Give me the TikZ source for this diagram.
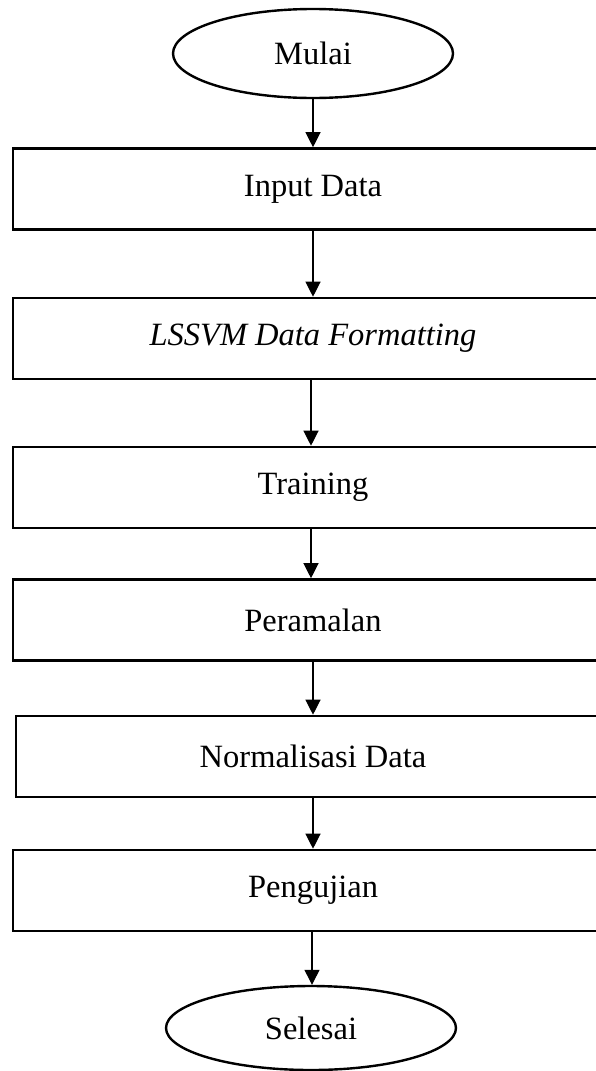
\documentclass[tikz,border=0pt]{standalone}
\usepackage{fontspec}
\setmainfont{Liberation Serif}
\usetikzlibrary{shapes.geometric,arrows.meta,calc}
\tikzset{
  x=1pt,y=1pt,
  stepbox/.style={draw=black,line width=2.6pt,rectangle,minimum height=81pt,inner sep=0pt,font=\fontsize{32.5}{38}\selectfont},
  terminal/.style={draw=black,line width=2.4pt,ellipse,inner sep=0pt,font=\fontsize{32.5}{38}\selectfont},
  flow/.style={line width=1.2pt,-{Triangle[width=15pt,length=15pt]}}
}
\begin{document}
\begin{tikzpicture}
\clip (0,0) rectangle (596,-1071);
\fill[white] (0,0) rectangle (596,-1071);
\node[terminal,minimum width=280pt,minimum height=89pt] (start) at (313,-53.5) {Mulai};
\node[stepbox,minimum width=600pt] (b1) at (313,-189) {Input Data};
\node[stepbox,minimum width=600pt] (b2) at (313,-338.5) {\itshape LSSVM Data Formatting};
\node[stepbox,minimum width=600pt] (b3) at (313,-487.5) {Training};
\node[stepbox,minimum width=600pt] (b4) at (313,-620) {Peramalan};
\node[stepbox,minimum width=594pt] (b5) at (313,-756.5) {Normalisasi Data};
\node[stepbox,minimum width=600pt] (b6) at (313,-890.5) {Pengujian};
\node[terminal,minimum width=290pt,minimum height=84pt] (stop) at (311,-1028) {Selesai};
\coordinate (s2) at ($(b2.south)+(-2,0)$);
\coordinate (s3) at ($(b3.south)+(-2,0)$);
\coordinate (s6) at ($(b6.south)+(-1,0)$);
\draw[flow] (start.south) -- (start.south |- b1.north);
\draw[flow] (b1.south) -- (b1.south |- b2.north);
\draw[flow] (s2) -- (s2 |- b3.north);
\draw[flow] (s3) -- (s3 |- b4.north);
\draw[flow] (b4.south) -- (b4.south |- b5.north);
\draw[flow] (b5.south) -- (b5.south |- b6.north);
\draw[flow] (s6) -- (s6 |- stop.north);
\end{tikzpicture}
\end{document}
